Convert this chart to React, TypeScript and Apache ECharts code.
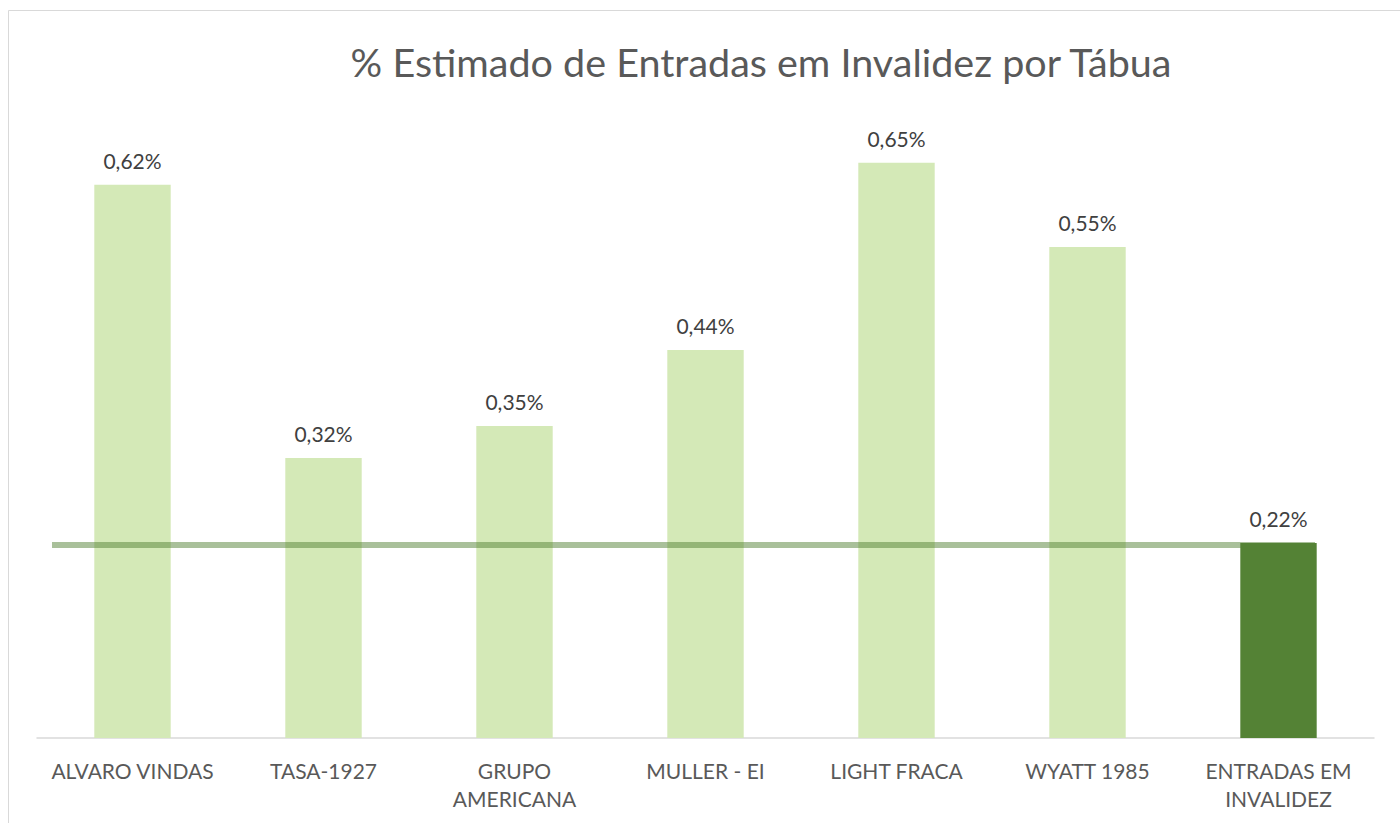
import React, { useEffect, useRef } from "react";
import * as echarts from "echarts";

const categories = [
  "ALVARO VINDAS",
  "TASA-1927",
  "GRUPO\nAMERICANA",
  "MULLER - EI",
  "LIGHT FRACA",
  "WYATT 1985",
  "ENTRADAS EM\nINVALIDEZ",
];
const values = [0.6235, 0.3157, 0.3517, 0.4374, 0.6483, 0.5535, 0.2198];
const highlightIndex = 6;
const referenceValue = 0.2175;
const titleText = "% Estimado de Entradas em Invalidez por Tábua";

const FONT = "Lato, 'Open Sans', sans-serif";

export default function App() {
  const ref = useRef<HTMLDivElement>(null);
  useEffect(() => {
    if (!ref.current) return;
    const chart = echarts.init(ref.current, null, { renderer: "svg" });
    chart.setOption({
      animation: false,
      backgroundColor: "#ffffff",
      textStyle: { fontFamily: FONT },
      graphic: [
        {
          type: "rect",
          shape: { x: 8.5, y: 10.5, width: 1500, height: 900 },
          style: { fill: "none", stroke: "#d9d9d9", lineWidth: 1 },
          silent: true,
          z: -10,
        },
        {
          type: "text",
          x: 761,
          y: 61,
          style: {
            text: titleText,
            align: "center",
            verticalAlign: "middle",
            fontSize: 39.5,
            fontFamily: FONT,
            fill: "#595959",
          },
        },
      ],
      grid: { left: 37, right: 26, top: 117, bottom: 85, containLabel: false },
      xAxis: {
        type: "category",
        data: categories,
        axisLine: { show: true, lineStyle: { color: "#d9d9d9", width: 1.5 } },
        axisTick: { show: false },
        axisLabel: {
          color: "#595959",
          fontSize: 21,
          fontFamily: FONT,
          margin: 18,
          lineHeight: 28,
          interval: 0,
        },
      },
      yAxis: {
        type: "value",
        min: 0,
        max: 0.7,
        show: false,
        splitLine: { show: false },
      },
      series: [
        {
          type: "bar",
          barWidth: "40%",
          data: values.map((v, i) => ({
            value: v,
            itemStyle: { color: i === highlightIndex ? "#548235" : "#d4e9b7" },
          })),
          label: {
            show: true,
            position: "top",
            distance: 14,
            color: "#404040",
            fontSize: 21,
            fontFamily: FONT,
            formatter: (p: any) => p.value.toFixed(2).replace(".", ",") + "%",
          },
          markLine: {
            silent: true,
            symbol: "none",
            label: { show: false },
            lineStyle: { color: "rgba(84,130,53,0.5)", width: 6, type: "solid" },
            data: [[{ x: 52, yAxis: referenceValue }, { x: 1315, yAxis: referenceValue }]],
            z: 10,
          },
        },
      ],
    });
    return () => chart.dispose();
  }, []);
  return (
    <div style={{ position: "fixed", left: 0, top: 0, width: 1400, height: 823, background: "#fff" }}>
      <div ref={ref} style={{ width: 1400, height: 823 }} />
    </div>
  );
}
